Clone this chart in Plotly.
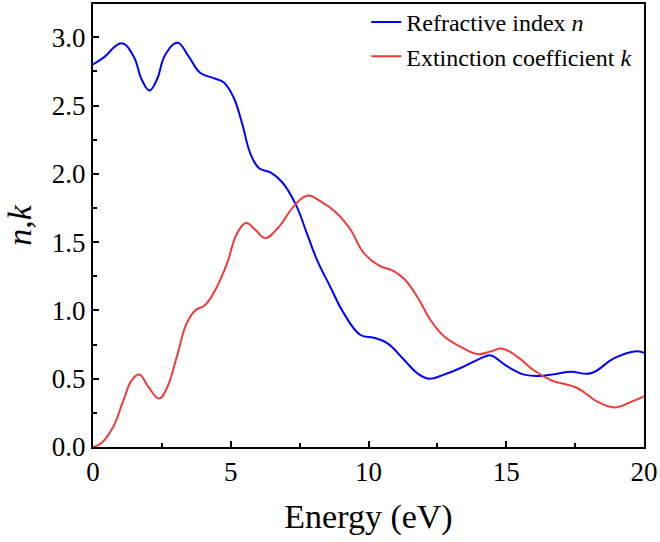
import plotly.graph_objects as go

energy_n = [0, 0.38, 1.04, 1.47, 1.77, 2.05, 2.32, 2.62, 3.07, 3.47, 3.89, 4.38, 4.74, 5.1, 5.41, 5.71,
            6.03, 6.44, 6.86, 7.35, 7.77, 8.13, 8.62, 9.1, 9.71, 10.19, 10.68, 11.28, 11.77, 12.19,
            12.74, 13.47, 14.2, 14.44, 15.04, 15.65, 16.25, 16.8, 17.35, 18.07, 18.92, 19.65, 20]
n_vals = [2.80, 2.85, 2.955, 2.86, 2.69, 2.61, 2.69, 2.87, 2.96, 2.86, 2.74, 2.70, 2.67, 2.56, 2.37, 2.15,
          2.04, 2.01, 1.94, 1.78, 1.56, 1.37, 1.17, 0.98, 0.82, 0.80, 0.76, 0.64, 0.54, 0.50,
          0.53, 0.59, 0.66, 0.67, 0.59, 0.53, 0.52, 0.535, 0.55, 0.54, 0.65, 0.70, 0.69]

energy_k = [0, 0.31, 0.74, 1.1, 1.41, 1.68, 2.01, 2.4, 2.68, 3.04, 3.41, 3.71, 4.07, 4.44, 4.86, 5.22,
            5.56, 5.89, 6.25, 6.74, 7.28, 7.77, 8.25, 8.86, 9.35, 9.83, 10.37, 10.9, 11.3, 11.77, 12.25,
            12.74, 13.47, 13.95, 14.44, 14.86, 15.41, 16.01, 16.62, 17.59, 18.32, 18.92, 19.53, 20]
k_vals = [0.00, 0.03, 0.15, 0.34, 0.49, 0.53, 0.44, 0.355, 0.43, 0.66, 0.91, 1.00, 1.04, 1.15, 1.34, 1.56,
          1.64, 1.59, 1.53, 1.61, 1.76, 1.84, 1.80, 1.71, 1.59, 1.42, 1.33, 1.29, 1.23, 1.10, 0.93,
          0.81, 0.72, 0.68, 0.70, 0.72, 0.66, 0.56, 0.49, 0.43, 0.33, 0.29, 0.33, 0.37]

font = "'Liberation Serif', 'Times New Roman', Times, serif"

fig = go.Figure()
fig.add_trace(go.Scatter(x=energy_n, y=n_vals, mode="lines", name="Refractive index <i>n</i>",
                         line=dict(color="#0000ff", width=2, shape="spline", smoothing=1.2)))
fig.add_trace(go.Scatter(x=energy_k, y=k_vals, mode="lines", name="Extinction coefficient <i>k</i>",
                         line=dict(color="#ef3b3b", width=2, shape="spline", smoothing=1.2)))

fig.update_layout(
    width=660, height=542,
    margin=dict(l=93, r=16, t=4, b=95, autoexpand=False),
    plot_bgcolor="white", paper_bgcolor="white",
    font=dict(family=font, color="black"),
    showlegend=True,
    legend=dict(x=0.496, y=1.0, yref="container", xanchor="left", yanchor="top", bgcolor="rgba(0,0,0,0)",
                font=dict(size=24, family=font), itemwidth=30),
    xaxis=dict(range=[0, 20], tickvals=[0, 5, 10, 15, 20], ticks="inside", ticklen=6, tickwidth=2,
               tickcolor="black", showline=True, linecolor="black", linewidth=2, mirror=True,
               showgrid=False, zeroline=False, tickfont=dict(size=27, family=font),
               minor=dict(ticks="inside", ticklen=4, tickwidth=2, tickcolor="black", dtick=2.5, showgrid=False),
               title=dict(text="Energy (eV)", font=dict(size=34, family=font), standoff=18)),
    yaxis=dict(range=[0, 3.243], tickvals=[0, 0.5, 1.0, 1.5, 2.0, 2.5, 3.0], ticktext=["0.0", "0.5", "1.0", "1.5", "2.0", "2.5", "3.0"],
               ticks="inside", ticklen=6, tickwidth=2,
               tickcolor="black", showline=True, linecolor="black", linewidth=2, mirror=True,
               showgrid=False, zeroline=False, tickfont=dict(size=27, family=font),
               minor=dict(ticks="inside", ticklen=4, tickwidth=2, tickcolor="black", dtick=0.25, showgrid=False),
               title=dict(text="<i>n</i>,<i>k</i>", font=dict(size=34, family=font), standoff=10)),
)

fig.write_html("out.html")
